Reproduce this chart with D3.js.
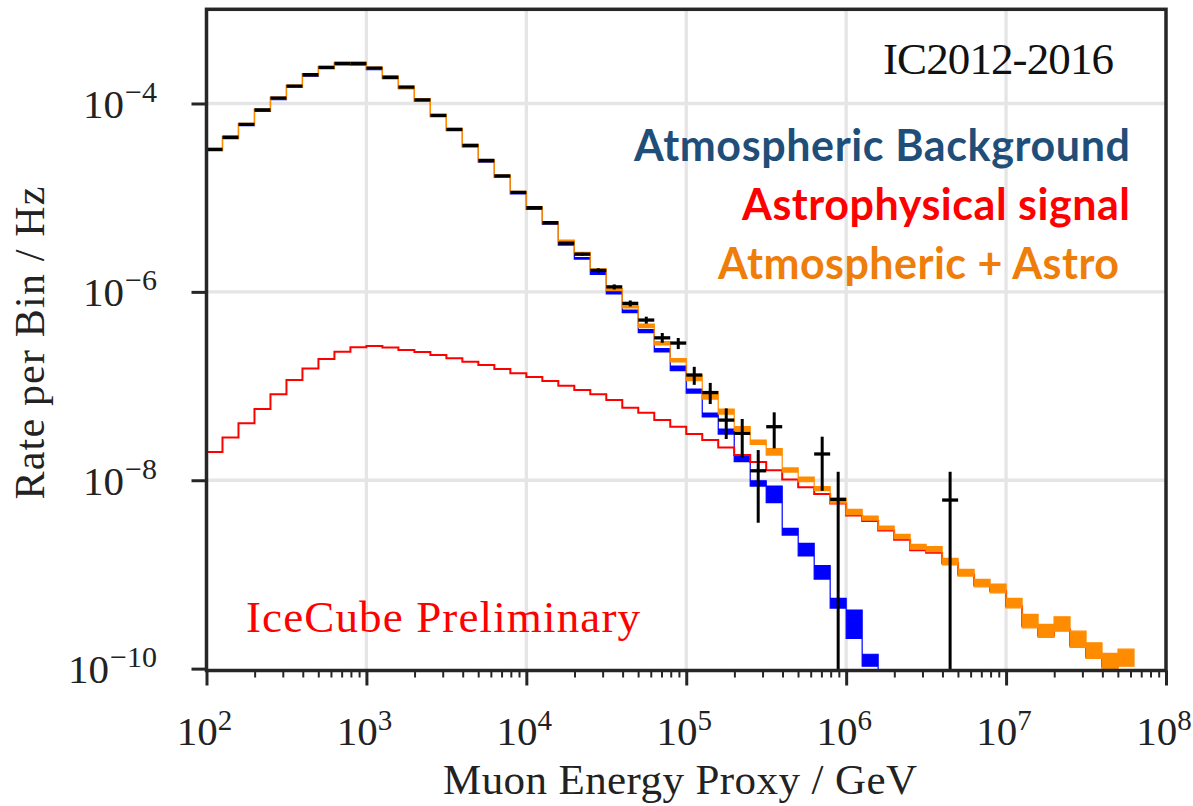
<!DOCTYPE html>
<html>
<head>
<meta charset="utf-8">
<script src="https://cdn.jsdelivr.net/npm/d3@7"></script>
<style>
  body { margin: 0; background: #fff; }
  svg text { font-family: "Liberation Serif", serif; }
</style>
</head>
<body>
<div id="chart"></div>
<script>
// bin edges in log10(E / GeV), 10 bins per decade
var edgeExp = [2.0, 2.1, 2.2, 2.3, 2.4, 2.5, 2.6, 2.7, 2.8, 2.9,
               3.0, 3.1, 3.2, 3.3, 3.4, 3.5, 3.6, 3.7, 3.8, 3.9,
               4.0, 4.1, 4.2, 4.3, 4.4, 4.5, 4.6, 4.7, 4.8, 4.9,
               5.0, 5.1, 5.2, 5.3, 5.4, 5.5, 5.6, 5.7, 5.8, 5.9,
               6.0, 6.1, 6.2, 6.3, 6.4, 6.5, 6.6, 6.7, 6.8, 6.9,
               7.0, 7.1, 7.2, 7.3, 7.4, 7.5, 7.6, 7.7, 7.8];

// measured rate per bin (Hz), null = no events
var dataRate = [3.26e-5, 4.38e-5, 6.01e-5, 8.53e-5, 1.14e-4, 1.53e-4, 2.02e-4, 2.42e-4, 2.67e-4, 2.66e-4,
                2.37e-4, 1.90e-4, 1.49e-4, 1.09e-4, 7.49e-5, 5.32e-5, 3.60e-5, 2.48e-5, 1.70e-5, 1.14e-5,
                7.82e-6, 5.42e-6, 3.30e-6, 2.51e-6, 1.69e-6, 1.13e-6, 7.55e-7, 5.02e-7, 3.25e-7, 2.86e-7,
                1.31e-7, 8.53e-8, 4.35e-8, 3.15e-8, 1.26e-8, 3.70e-8, null, null, 1.90e-8, 6.27e-9,
                null, null, null, null, null, null, 6.16e-9, null, null, null,
                null, null, null, null, null, null, null, null];
// error bar ends, null = not visible, 0 = down to the axis
var dataLow = [null, null, null, null, null, null, null, null, null, null,
               null, null, null, null, null, null, null, null, null, null,
               null, null, null, 2.42e-6, 1.60e-6, 1.06e-6, 7.0e-7, 4.6e-7, 2.88e-7, 2.47e-7,
               1.03e-7, 6.44e-8, 2.74e-8, 1.75e-8, 3.53e-9, 2.18e-8, null, null, 7.73e-9, 0,
               null, null, null, null, null, null, 0, null, null, null,
               null, null, null, null, null, null, null, null];
var dataHigh = [null, null, null, null, null, null, null, null, null, null,
                null, null, null, null, null, null, null, null, null, null,
                null, null, null, 2.60e-6, 1.78e-6, 1.20e-6, 8.1e-7, 5.45e-7, 3.66e-7, 3.24e-7,
                1.60e-7, 1.08e-7, 5.79e-8, 4.47e-8, 2.09e-8, 5.26e-8, null, null, 2.90e-8, 1.23e-8,
                null, null, null, null, null, null, 1.23e-8, null, null, null,
                null, null, null, null, null, null, null, null];

// atmospheric background band
var atmoLow = [3.15e-5, 4.23e-5, 5.80e-5, 8.24e-5, 1.10e-4, 1.48e-4, 1.95e-4, 2.34e-4, 2.57e-4, 2.56e-4,
               2.29e-4, 1.83e-4, 1.44e-4, 1.05e-4, 7.24e-5, 5.14e-5, 3.47e-5, 2.39e-5, 1.64e-5, 1.10e-5,
               7.53e-6, 5.22e-6, 3.14e-6, 2.23e-6, 1.53e-6, 9.49e-7, 6.03e-7, 3.70e-7, 2.30e-7, 1.46e-7,
               8.43e-8, 4.69e-8, 3.09e-8, 1.58e-8, 8.68e-9, 5.79e-9, 2.62e-9, 1.57e-9, 8.92e-10, 4.39e-10,
               2.09e-10, 1.06e-10, 5e-11, null, null, null, null, null, null, null,
               null, null, null, null, null, null, null, null];
var atmoHigh = [3.31e-5, 4.45e-5, 6.10e-5, 8.65e-5, 1.16e-4, 1.55e-4, 2.05e-4, 2.46e-4, 2.71e-4, 2.70e-4,
                2.41e-4, 1.93e-4, 1.51e-4, 1.11e-4, 7.60e-5, 5.40e-5, 3.65e-5, 2.51e-5, 1.72e-5, 1.16e-5,
                7.92e-6, 5.48e-6, 3.26e-6, 2.31e-6, 1.60e-6, 1.008e-6, 6.41e-7, 3.98e-7, 2.50e-7, 1.63e-7,
                9.29e-8, 5.17e-8, 3.50e-8, 1.85e-8, 9.87e-9, 8.68e-9, 3.08e-9, 2.14e-9, 1.24e-9, 5.57e-10,
                4.18e-10, 1.42e-10, 5e-11, null, null, null, null, null, null, null,
                null, null, null, null, null, null, null, null];

// atmospheric + astro band
var totalLow = [3.18e-5, 4.27e-5, 5.86e-5, 8.32e-5, 1.11e-4, 1.49e-4, 1.97e-4, 2.36e-4, 2.60e-4, 2.59e-4,
                2.31e-4, 1.85e-4, 1.45e-4, 1.06e-4, 7.31e-5, 5.19e-5, 3.51e-5, 2.42e-5, 1.66e-5, 1.11e-5,
                7.63e-6, 5.29e-6, 3.38e-6, 2.52e-6, 1.66e-6, 1.03e-6, 6.74e-7, 4.18e-7, 2.73e-7, 1.80e-7,
                1.14e-7, 7.28e-8, 5.04e-8, 3.37e-8, 2.40e-8, 1.85e-8, 1.22e-8, 9.64e-9, 7.77e-9, 5.72e-9,
                4.32e-9, 3.78e-9, 2.99e-9, 2.40e-9, 1.85e-9, 1.74e-9, 1.26e-9, 9.60e-10, 7.39e-10, 6.38e-10,
                4.42e-10, 2.71e-10, 2.15e-10, 2.50e-10, 1.68e-10, 1.28e-10, 1.005e-10, 1.06e-10];
var totalHigh = [3.34e-5, 4.49e-5, 6.16e-5, 8.74e-5, 1.17e-4, 1.57e-4, 2.07e-4, 2.48e-4, 2.74e-4, 2.73e-4,
                 2.43e-4, 1.95e-4, 1.53e-4, 1.12e-4, 7.68e-5, 5.45e-5, 3.69e-5, 2.54e-5, 1.74e-5, 1.17e-5,
                 8.02e-6, 5.56e-6, 3.55e-6, 2.62e-6, 1.75e-6, 1.085e-6, 7.16e-7, 4.55e-7, 2.97e-7, 1.96e-7,
                 1.31e-7, 8.74e-8, 5.70e-8, 3.72e-8, 2.67e-8, 2.17e-8, 1.35e-8, 1.08e-8, 8.57e-9, 6.42e-9,
                 4.91e-9, 4.16e-9, 3.26e-9, 2.66e-9, 2.08e-9, 1.97e-9, 1.48e-9, 1.13e-9, 8.86e-10, 7.90e-10,
                 5.57e-10, 3.77e-10, 2.95e-10, 3.55e-10, 2.50e-10, 1.88e-10, 1.45e-10, 1.61e-10];

// astrophysical signal
var astroRate = [1.99e-8, 2.85e-8, 4.02e-8, 5.70e-8, 8.17e-8, 1.16e-7, 1.54e-7, 1.94e-7, 2.31e-7, 2.58e-7,
                 2.66e-7, 2.56e-7, 2.41e-7, 2.30e-7, 2.13e-7, 1.97e-7, 1.81e-7, 1.67e-7, 1.52e-7, 1.37e-7,
                 1.25e-7, 1.13e-7, 1.01e-7, 9.07e-8, 8.17e-8, 7.10e-8, 5.88e-8, 5.21e-8, 4.36e-8, 3.70e-8,
                 3.09e-8, 2.67e-8, 2.23e-8, 1.85e-8, 1.56e-8, 1.28e-8, 1.02e-8, 8.40e-9, 7.13e-9, 5.68e-9,
                 4.22e-9, 3.69e-9, 2.92e-9, 2.34e-9, 1.81e-9, 1.70e-9, 1.32e-9, 1.00e-9, 7.7e-10, 6.7e-10,
                 4.6e-10, 2.85e-10, 2.25e-10, 2.6e-10, 1.76e-10, 1.34e-10, 1.05e-10, 1.11e-10];

var xTicks = [1e2, 1e3, 1e4, 1e5, 1e6, 1e7, 1e8];
var xTickLabels = ["2", "3", "4", "5", "6", "7", "8"];
var yTicks = [1e-10, 1e-8, 1e-6, 1e-4];
var yTickLabels = ["\u221210", "\u22128", "\u22126", "\u22124"];
var gridX = [1e3, 1e4, 1e5, 1e6, 1e7];
var gridY = [1e-8, 1e-6, 1e-4];

var legendItems = [
    {text: "Atmospheric Background", color: "#1f4e79", x: 1130, y: 161, len: 496},
    {text: "Astrophysical signal", color: "#ff0000", x: 1130, y: 220, len: 388},
    {text: "Atmospheric + Astro", color: "#ef7d0a", x: 1119, y: 279, len: 401}
];

var W = 1193, H = 806;
var plotLeft = 206.5, plotRight = 1166, plotTop = 9.3, plotBottom = 670.5;
var ink = "#262626";

var x = d3.scaleLog().domain([1e2, 1e8]).range([plotLeft, plotRight]);
var y = d3.scaleLog().domain([Math.pow(10, -10.02), 1e-3]).range([plotBottom, plotTop]);

var svg = d3.select('#chart')
    .append("svg")
    .attr("width", W)
    .attr("height", H)
    .style("background", "#fff");

svg.append("clipPath").attr("id", "plotclip")
    .append("rect")
    .attr("x", plotLeft).attr("y", plotTop)
    .attr("width", plotRight - plotLeft).attr("height", plotBottom - plotTop);

// grid
svg.append("g").selectAll("line").data(gridX).enter().append("line")
    .attr("x1", d => x(d)).attr("x2", d => x(d))
    .attr("y1", plotTop).attr("y2", plotBottom)
    .style("stroke", "#e5e5e5").style("stroke-width", 3.3);
svg.append("g").selectAll("line").data(gridY).enter().append("line")
    .attr("x1", plotLeft).attr("x2", plotRight)
    .attr("y1", d => y(d)).attr("y2", d => y(d))
    .style("stroke", "#e5e5e5").style("stroke-width", 3.3);

function binRows(lowArr, highArr) {
    var rows = [];
    for (var i = 0; i < lowArr.length; i++) {
        rows.push({e: Math.pow(10, edgeExp[i]), lo: lowArr[i], hi: highArr[i]});
    }
    // closing point on right edge of the last bin
    var last = lowArr.length - 1;
    rows.push({e: Math.pow(10, edgeExp[last + 1]), lo: lowArr[last], hi: highArr[last]});
    return rows;
}

var band = d3.area()
    .defined(d => d.lo != null)
    .curve(d3.curveStepAfter)
    .x(d => x(d.e))
    .y0(d => y(d.lo))
    .y1(d => y(d.hi));

var plot = svg.append("g").attr("clip-path", "url(#plotclip)");

plot.append("path")
    .datum(binRows(atmoLow, atmoHigh))
    .attr("d", band)
    .style("fill", "#0000ff")
    .style("stroke", "#0000ff")
    .style("stroke-width", 1.2);

var step = d3.line()
    .curve(d3.curveStepAfter)
    .x(d => x(d.e))
    .y(d => y(d.lo));

plot.append("path")
    .datum(binRows(astroRate, astroRate))
    .attr("d", step)
    .style("fill", "none")
    .style("stroke", "#ff0000")
    .style("stroke-width", 2);

plot.append("path")
    .datum(binRows(totalLow, totalHigh))
    .attr("d", band)
    .style("fill", "#ff8c00")
    .style("stroke", "#ff8c00")
    .style("stroke-width", 1.2);

// data points
var points = [];
for (var i = 0; i < dataRate.length; i++) {
    if (dataRate[i] == null) continue;
    points.push({
        e0: Math.pow(10, edgeExp[i]),
        e1: Math.pow(10, edgeExp[i + 1]),
        ec: Math.pow(10, (edgeExp[i] + edgeExp[i + 1]) / 2),
        v: dataRate[i], lo: dataLow[i], hi: dataHigh[i]
    });
}

plot.selectAll(".xbar").data(points).enter().append("line")
    .attr("class", "xbar")
    .attr("x1", d => x(d.e0)).attr("x2", d => x(d.e1))
    .attr("y1", d => y(d.v)).attr("y2", d => y(d.v))
    .style("stroke", "#000").style("stroke-width", 3.3);

plot.selectAll(".ybar").data(points.filter(d => d.hi != null)).enter().append("line")
    .attr("class", "ybar")
    .attr("x1", d => x(d.ec)).attr("x2", d => x(d.ec))
    .attr("y1", d => y(d.hi))
    .attr("y2", d => d.lo > 0 ? y(d.lo) : plotBottom)
    .style("stroke", "#000").style("stroke-width", 3);

// frame
svg.append("rect")
    .attr("x", plotLeft).attr("y", plotTop)
    .attr("width", plotRight - plotLeft).attr("height", plotBottom - plotTop)
    .style("fill", "none").style("stroke", ink).style("stroke-width", 3.5);

// axes
var minorX = [];
for (var d = 2; d < 8; d++) {
    for (var m = 2; m < 10; m++) minorX.push(m * Math.pow(10, d));
}

var xMajor = svg.append("g").attr("transform", "translate(0," + plotBottom + ")")
    .call(d3.axisBottom(x).tickValues(xTicks).tickSize(15).tickSizeOuter(0).tickFormat(""));
var xMinor = svg.append("g").attr("transform", "translate(0," + plotBottom + ")")
    .call(d3.axisBottom(x).tickValues(minorX).tickSize(7).tickSizeOuter(0).tickFormat(""));
var yMajor = svg.append("g").attr("transform", "translate(" + plotLeft + ",0)")
    .call(d3.axisLeft(y).tickValues(yTicks).tickSize(15).tickSizeOuter(0).tickFormat(""));

[xMajor, xMinor, yMajor].forEach(function(g) { g.select(".domain").remove(); });
xMajor.selectAll(".tick line").style("stroke", ink).style("stroke-width", 3);
yMajor.selectAll(".tick line").style("stroke", ink).style("stroke-width", 3);
xMinor.selectAll(".tick line").style("stroke", ink).style("stroke-width", 2);

// tick labels with superscript exponents
svg.selectAll(".xlab").data(xTicks).enter().append("text")
    .attr("class", "xlab")
    .attr("x", d => x(d) - 2)
    .attr("y", 745)
    .attr("text-anchor", "middle")
    .style("fill", "#222")
    .each(function(d, i) {
        var t = d3.select(this);
        t.append("tspan").style("font-size", "41px").text("10");
        t.append("tspan").attr("dy", -15).style("font-size", "29px").text(xTickLabels[i]);
    });

svg.selectAll(".ylab").data(yTicks).enter().append("text")
    .attr("class", "ylab")
    .attr("x", 157)
    .attr("y", d => y(d) + 14.5)
    .attr("text-anchor", "end")
    .style("fill", "#222")
    .each(function(d, i) {
        var t = d3.select(this);
        t.append("tspan").style("font-size", "41px").text("10");
        t.append("tspan").attr("dy", -16).attr("dx", 1).style("font-size", "30px")
            .text(yTickLabels[i]);
    });

// axis titles
svg.append("text")
    .attr("x", 680).attr("y", 794)
    .attr("text-anchor", "middle")
    .attr("textLength", 474)
    .style("font-size", "43px").style("fill", "#222")
    .text("Muon Energy Proxy / GeV");

svg.append("text")
    .attr("transform", "translate(44,343) rotate(-90)")
    .attr("text-anchor", "middle")
    .attr("textLength", 313)
    .style("font-size", "42px").style("fill", "#222")
    .text("Rate per Bin / Hz");

svg.append("text")
    .attr("x", 1114).attr("y", 74)
    .attr("text-anchor", "end")
    .attr("textLength", 231)
    .style("font-size", "45px").style("fill", "#111")
    .text("IC2012-2016");

svg.append("text")
    .attr("x", 246).attr("y", 632)
    .attr("textLength", 394)
    .style("font-size", "45px").style("fill", "#ff0000")
    .text("IceCube Preliminary");

svg.selectAll(".legend").data(legendItems).enter().append("text")
    .attr("class", "legend")
    .attr("x", d => d.x).attr("y", d => d.y)
    .attr("text-anchor", "end")
    .attr("textLength", d => d.len)
    .style("font-family", "Lato, sans-serif")
    .style("font-weight", "bold")
    .style("font-size", "43px")
    .style("fill", d => d.color)
    .text(d => d.text);
</script>
</body>
</html>
